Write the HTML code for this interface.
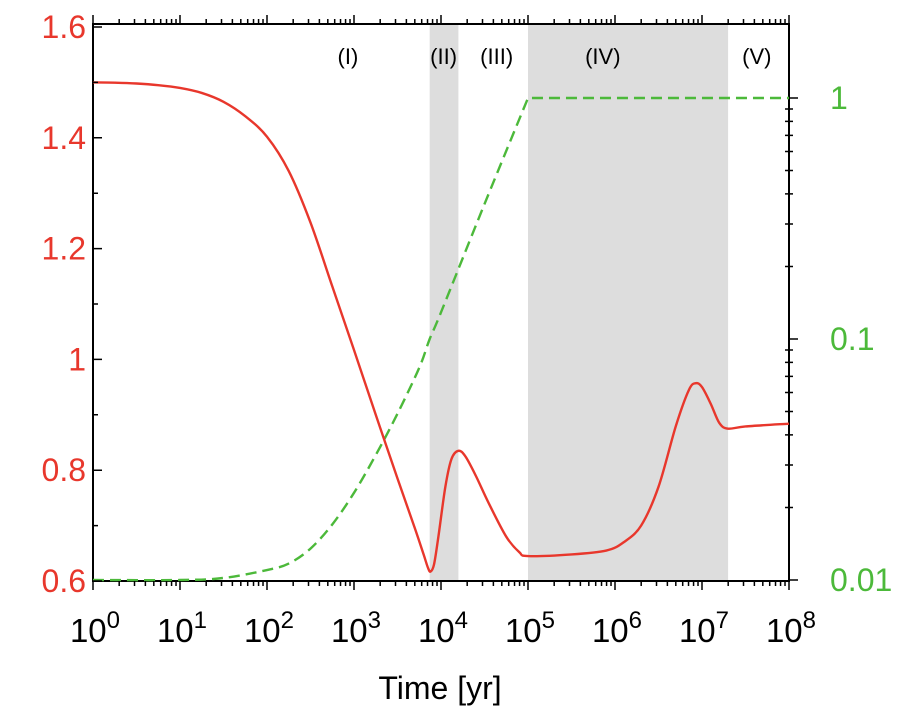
<!DOCTYPE html>
<html><head><meta charset="utf-8"><style>
body{margin:0;background:#fff}
svg text{font-family:"Liberation Sans",sans-serif}
</style></head><body>
<svg id="c" width="904" height="714"></svg>
<script>
const redT=[0,0.25,0.5,0.75,1,1.25,1.5,1.75,2,2.25,2.5,2.75,3,3.25,3.5,3.7,3.8,3.85,3.88,3.92,3.97,4.05,4.12,4.2,4.28,4.4,4.55,4.75,4.9,5.0,5.5,5.9,6.1,6.3,6.5,6.7,6.85,6.93,7.0,7.1,7.2,7.3,7.5,8];
const redV=[1.500,1.4995,1.498,1.495,1.49,1.481,1.465,1.439,1.402,1.340,1.247,1.132,1.017,0.90,0.785,0.695,0.648,0.624,0.617,0.63,0.68,0.77,0.82,0.835,0.825,0.79,0.74,0.68,0.652,0.645,0.648,0.655,0.67,0.70,0.77,0.88,0.945,0.957,0.95,0.92,0.885,0.875,0.879,0.884];
const grnT=[0,1,1.5,2,2.25,2.5,2.75,3,3.25,3.5,3.75,3.87,4,4.5,5,8];
const grnV=[0.01,0.01,0.0102,0.011,0.0117,0.0135,0.017,0.023,0.033,0.049,0.076,0.1,0.129,0.363,1,1];
const leftTicks=[0.6,0.8,1,1.2,1.4,1.6];
const rightTicks=[0.01,0.1,1];
const xTicks=[0,1,2,3,4,5,6,7,8];
const regions=[[3.87,4.2],[5,7.3]];
const regionLabels=["(I)","(II)","(III)","(IV)","(V)"];
const regionLabelPos=[2.93,4.03,4.64,5.86,7.63];
const L=93,R=789,T=24,B=581;
const X=v=>L+(v-0)/8*(R-L);
const Y=v=>B-(v-0.6)/1.0*(B-T)*(1-3/557);
const Y2=v=>B-1-(Math.log10(v)+2)*241;
const s=document.getElementById('c'),NS='http://www.w3.org/2000/svg';
function mk(t,a,p){const e=document.createElementNS(NS,t);for(const k in a)e.setAttribute(k,a[k]);(p||s).appendChild(e);return e;}
function smooth(pts){let d='M'+pts[0];
for(let i=0;i<pts.length-1;i++){const p0=pts[i-1]||pts[i],p1=pts[i],p2=pts[i+1],p3=pts[i+2]||p2;
d+='C'+(p1[0]+(p2[0]-p0[0])/6)+','+(p1[1]+(p2[1]-p0[1])/6)+' '+(p2[0]-(p3[0]-p1[0])/6)+','+(p2[1]-(p3[1]-p1[1])/6)+' '+p2[0]+','+p2[1];}return d;}
regions.forEach(r=>{const e=mk('rect',{x:X(r[0]),y:T,width:X(r[1])-X(r[0]),height:B-T,fill:'#dddddd'});

});
regionLabels.forEach((t,i)=>{const e=mk('text',{x:X(regionLabelPos[i]),y:64,'text-anchor':'middle','font-size':22,fill:'#000'});e.textContent=t;

});
const fr=mk('rect',{x:L,y:T,width:R-L,height:B-T,fill:'none',stroke:'#000','stroke-width':2});


const gi=grnT.indexOf(5);
const gp=grnT.map((t,i)=>[X(t),Y2(grnV[i])]);
let d=smooth(gp.slice(0,gi+1))+'L'+gp.slice(gi+1).join('L');
const g=mk('path',{d,fill:'none',stroke:'#4cb93a','stroke-width':2.4,'stroke-dasharray':'11,6'});


d=smooth(redT.map((t,i)=>[X(t),Y(redV[i])]));
const r=mk('path',{d,fill:'none',stroke:'#e8372c','stroke-width':2.4});


let tk='';
for(let dd=0;dd<8;dd++)for(let m=1;m<10;m++){const x=X(dd+Math.log10(m)),len=m==1?9:5;tk+=`M${x},${B}v${len}M${x},${T}v${-len}`;}
tk+=`M${R},${B}v9M${R},${T}v-9`;
leftTicks.forEach(v=>tk+=`M${L},${Y(v)}h9`);
for(let v=0.7;v<1.6;v+=0.2)tk+=`M${L},${Y(v)}h5`;
for(let dd=-2;dd<0.3;dd++)for(let m=1;m<10;m++){const v=Math.pow(10,dd)*m;if(v>1.97)break;const y=Y2(v);tk+=m==1?`M${R},${y}h9`:`M${R-4},${y}h8`;}
const te=mk('path',{d:tk,stroke:'#000','stroke-width':1.5,fill:'none'});


leftTicks.forEach(v=>{const e=mk('text',{x:86,y:Y(v)+11,'text-anchor':'end','font-size':32,fill:'#e8372c'});e.textContent=String(v);

});
rightTicks.forEach(v=>{const e=mk('text',{x:830,y:Y2(v)+11,'font-size':32,fill:'#4cb93a'});e.textContent=String(v);

});
xTicks.forEach(v=>{const e=mk('text',{x:X(v)+2,y:642,'text-anchor':'middle','font-size':33,fill:'#000'});e.textContent='10';
const sp=mk('tspan',{dy:-14,'font-size':24},e);sp.textContent=String(v);

});
const xt=mk('text',{x:440,y:699,'text-anchor':'middle','font-size':32,fill:'#000'});xt.textContent='Time [yr]';


</script>
</body></html>
